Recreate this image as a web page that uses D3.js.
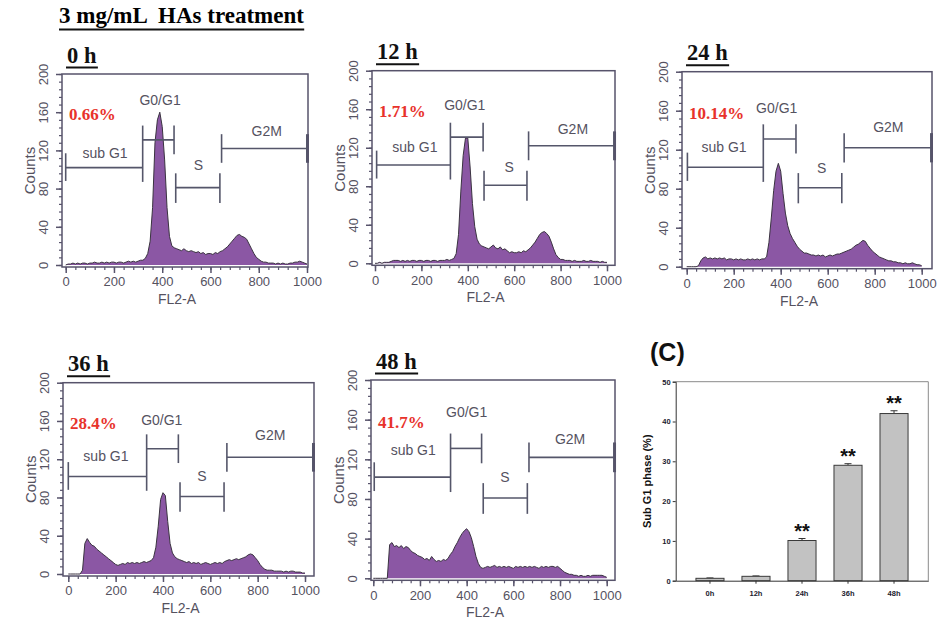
<!DOCTYPE html>
<html>
<head>
<meta charset="utf-8">
<script src="https://cdn.jsdelivr.net/npm/d3@7"></script>
<style>
  body { margin: 0; background: #fff; }
  svg { display: block; }
</style>
</head>
<body>
<svg id="fig" width="945" height="625"></svg>
<script>
const figTitle = '3 mg/mL  HAs treatment'
const timeLabels = ['0 h', '12 h', '24 h', '36 h', '48 h']
const subG1Labels = ['0.66%', '1.71%', '10.14%', '28.4%', '41.7%']
const gateNames = ['sub G1', 'G0/G1', 'S', 'G2M']

// FL2-A channels, one count every 10 channels
const channels = d3.range(0, 1001, 10)

const counts0h = [
  0, 1, 1, 2, 1, 2, 1, 2, 2, 1,
  2, 2, 3, 2, 2, 3, 2, 3, 2, 3,
  3, 2, 3, 3, 2, 3, 4, 3, 4, 3,
  4, 5, 5, 7, 12, 25, 60, 128, 152, 160,
  145, 110, 60, 30, 20, 18, 17, 16, 15, 17,
  15, 14, 15, 14, 13, 14, 12, 13, 11, 12,
  12, 11, 13, 12, 14, 15, 17, 19, 22, 25,
  28, 31, 32, 30, 29, 27, 22, 17, 12, 8,
  6, 4, 3, 3, 2, 2, 2, 1, 2, 1,
  2, 1, 1, 2, 2, 3, 3, 4, 3, 2,
  1]
const counts12h = [
  0, 0, 1, 0, 1, 1, 1, 2, 3, 3,
  3, 2, 3, 2, 3, 2, 3, 3, 2, 3,
  3, 2, 3, 3, 2, 3, 3, 2, 3, 3,
  3, 4, 3, 4, 5, 10, 30, 75, 112, 130,
  130, 100, 62, 38, 25, 20, 18, 17, 16, 15,
  17, 19, 16, 15, 17, 14, 15, 13, 11, 12,
  11, 11, 12, 11, 13, 12, 14, 16, 19, 22,
  26, 30, 32, 33, 31, 28, 22, 15, 9, 6,
  4, 4, 3, 3, 3, 2, 3, 2, 2, 2,
  3, 2, 2, 3, 2, 2, 2, 1, 2, 1,
  1]
const counts24h = [
  0, 0, 0, 0, 0, 1, 6, 9, 10, 8,
  9, 8, 9, 8, 9, 8, 9, 7, 8, 8,
  7, 8, 7, 8, 7, 7, 8, 7, 8, 7,
  8, 7, 8, 8, 10, 25, 50, 78, 98, 106,
  98, 75, 55, 42, 34, 29, 25, 21, 18, 16,
  14, 14, 13, 12, 12, 11, 12, 11, 12, 10,
  11, 12, 11, 12, 13, 13, 14, 15, 16, 17,
  18, 20, 22, 23, 25, 27, 26, 22, 19, 16,
  14, 12, 10, 9, 8, 7, 6, 6, 5, 5,
  4, 4, 3, 4, 3, 3, 4, 3, 2, 2,
  1]
const counts36h = [
  0, 0, 0, 0, 0, 0, 4, 32, 37, 33,
  30, 29, 26, 24, 22, 20, 18, 16, 14, 12,
  10, 9, 10, 11, 10, 12, 11, 12, 11, 12,
  11, 12, 13, 12, 13, 14, 17, 28, 50, 78,
  85, 82, 55, 32, 22, 18, 16, 15, 14, 13,
  12, 13, 11, 12, 11, 12, 10, 11, 12, 11,
  10, 11, 12, 11, 12, 11, 13, 14, 15, 14,
  15, 16, 15, 16, 17, 18, 20, 21, 20, 17,
  14, 10, 7, 5, 4, 4, 4, 3, 3, 3,
  3, 2, 3, 2, 3, 3, 2, 2, 2, 1,
  1]
const counts48h = [
  0, 0, 0, 0, 0, 0, 0, 34, 36, 32,
  33, 31, 33, 30, 32, 31, 28, 26, 25, 23,
  22, 21, 19, 20, 18, 22, 19, 17, 18, 17,
  19, 18, 20, 24, 27, 32, 36, 41, 45, 48,
  50, 47, 41, 32, 22, 15, 11, 10, 11, 12,
  11, 12, 13, 11, 12, 11, 12, 11, 12, 11,
  10, 12, 11, 12, 11, 12, 11, 12, 11, 12,
  11, 10, 12, 11, 12, 11, 12, 12, 11, 12,
  10, 8, 6, 5, 4, 4, 3, 3, 2, 3,
  2, 2, 3, 2, 3, 3, 3, 3, 3, 2,
  1]
const histCounts = [counts0h, counts12h, counts24h, counts36h, counts48h]

// gate edges in channels: subG1 start, subG1/G1 split, G1 end, S start, S end, G2M start
const gateEdges = [
  [0, 319, 449, 456, 639, 646],
  [7, 325, 466, 470, 655, 662],
  [3, 326, 465, 475, 660, 670],
  [0, 331, 465, 472, 658, 670],
  [4, 331, 464, 471, 660, 667]
]
// gate levels in counts: [line, cap low, cap high]
const gateLevels = {
  subG1: [102, 88, 117],
  split: [null, 87, 146],
  g1: [131, 116, 146],
  s: [81, 65, 96],
  g2m: [122, 107, 137]
}

const channelTicks = [0, 200, 400, 600, 800, 1000]
const countTicks = [0, 40, 80, 120, 160, 200]

const barCategories = ['0h', '12h', '24h', '36h', '48h']
const barMeans = [0.6, 1.1, 10.1, 29.0, 42.0]
const barErrors = [0.1, 0.1, 0.5, 0.4, 0.7]
const barMarks = ['', '', '**', '**', '**']
const percentTicks = [0, 10, 20, 30, 40, 50]

// ---- layout ----
const panels = [
  { left: 62, right: 308, x0: 65.7, x1000: 307, y0: 265, y200: 74 },
  { left: 372, right: 615, x0: 375, x1000: 607, y0: 263.3, y200: 70.7 },
  { left: 682, right: 932, x0: 686.7, x1000: 921.7, y0: 266.7, y200: 71.7 },
  { left: 63, right: 314, x0: 68.3, x1000: 305, y0: 574, y200: 382.7 },
  { left: 371, right: 615, x0: 373.3, x1000: 606.7, y0: 578.3, y200: 380 }
]
// gate label centres, [channel, count]
const gateLabelAt = [
  [[163, 117], [391, 173], [550, 105], [833, 140]],
  [[172, 121], [387, 164], [578, 100], [853, 139]],
  [[159, 123], [383, 163], [574, 101], [858, 143]],
  [[159, 123], [395, 161], [564, 103], [853, 145]],
  [[171, 129], [400, 168], [564, 102], [843, 141]]
]

const serif = '"Liberation Serif", "Times New Roman", serif'
const sans = '"Liberation Sans", Arial, sans-serif'
const frameColor = '#57536b'
const textColor = '#55525f'
const gateColor = '#55566a'
const histFill = '#8b57a4'

const svg = d3.select('#fig')

const titleText = svg.append('text')
    .attr('x', 59)
    .attr('y', 23)
    .style('font-family', serif)
    .style('font-weight', 'bold')
    .style('font-size', '23px')
    .style('white-space', 'pre')
    .text(figTitle)
const tb = titleText.node().getBBox()
svg.append('line')
    .attr('x1', tb.x).attr('x2', tb.x + tb.width)
    .attr('y1', 29.5).attr('y2', 29.5)
    .attr('stroke', '#111').attr('stroke-width', 2)

function drawHistogram(i) {
    const p = panels[i]
    const counts = histCounts[i]
    const edges = gateEdges[i]
    const bottom = p.y0 + 2

    const x = d3.scaleLinear().domain([0, 1000]).range([p.x0, p.x1000])
    const y = d3.scaleLinear().domain([0, 200]).range([p.y0, p.y200])
    const rightEdge = x.invert(p.right)

    const g = svg.append('g').attr('class', 'hist')

    g.append('defs').append('clipPath')
        .attr('id', `clip${i}`)
      .append('rect')
        .attr('x', p.left).attr('y', p.y200)
        .attr('width', p.right - p.left).attr('height', bottom - p.y200)

    const pts = channels.map((c, j) => ({ ch: c, n: counts[j] }))

    const area = d3.area()
        .x(d => x(d.ch))
        .y0(y(0))
        .y1(d => y(d.n))
    const line = d3.line()
        .x(d => x(d.ch))
        .y(d => y(d.n))

    g.append('path')
        .attr('clip-path', `url(#clip${i})`)
        .attr('d', area(pts))
        .style('fill', histFill)
    g.append('path')
        .attr('clip-path', `url(#clip${i})`)
        .attr('d', line(pts))
        .style('fill', 'none')
        .style('stroke', '#3a3340')
        .style('stroke-width', 1)

    // gates
    const gate = (x1, x2, yv) => g.append('line')
        .attr('x1', x(x1)).attr('x2', x(x2))
        .attr('y1', y(yv)).attr('y2', y(yv))
        .attr('stroke', gateColor).attr('stroke-width', 1.6)
    const cap = (xv, lo, hi, w) => g.append('line')
        .attr('x1', x(xv)).attr('x2', x(xv))
        .attr('y1', y(lo)).attr('y2', y(hi))
        .attr('stroke', gateColor).attr('stroke-width', w || 1.6)

    gate(edges[0], edges[1], gateLevels.subG1[0])
    cap(edges[0], gateLevels.subG1[1], gateLevels.subG1[2])
    cap(edges[1], gateLevels.split[1], gateLevels.split[2])
    gate(edges[1], edges[2], gateLevels.g1[0])
    cap(edges[2], gateLevels.g1[1], gateLevels.g1[2])
    gate(edges[3], edges[4], gateLevels.s[0])
    cap(edges[3], gateLevels.s[1], gateLevels.s[2])
    cap(edges[4], gateLevels.s[1], gateLevels.s[2])
    gate(edges[5], rightEdge - 2, gateLevels.g2m[0])
    cap(edges[5], gateLevels.g2m[1], gateLevels.g2m[2])
    cap(rightEdge - 2, gateLevels.g2m[1], gateLevels.g2m[2], 3)

    g.selectAll('.gate-label')
        .data(gateNames)
        .enter()
        .append('text')
            .attr('class', 'gate-label')
            .attr('x', (d, k) => x(gateLabelAt[i][k][0]))
            .attr('y', (d, k) => y(gateLabelAt[i][k][1]))
            .attr('dy', '0.36em')
            .attr('text-anchor', 'middle')
            .style('font-family', sans)
            .style('font-size', '14px')
            .style('fill', textColor)
            .text(d => d)

    // frame
    g.append('rect')
        .attr('x', p.left).attr('y', p.y200)
        .attr('width', p.right - p.left).attr('height', bottom - p.y200)
        .style('fill', 'none')
        .style('stroke', frameColor)
        .style('stroke-width', 1.5)

    // axes
    g.append('g')
        .attr('transform', `translate(0,${bottom})`)
        .call(d3.axisBottom(x).tickValues(d3.range(0, 1001, 40)).tickSize(3).tickFormat(''))
        .call(a => a.select('.domain').remove())
        .call(a => a.selectAll('line').attr('stroke', frameColor).attr('stroke-width', 1.2))
    g.append('g')
        .attr('transform', `translate(0,${bottom})`)
        .call(d3.axisBottom(x).tickValues(channelTicks).tickSize(6).tickFormat(d3.format('d')))
        .call(a => a.select('.domain').remove())
        .call(a => a.selectAll('line').attr('stroke', frameColor).attr('stroke-width', 1.5))
        .call(a => a.selectAll('text')
            .attr('y', 10)
            .style('font-family', sans)
            .style('font-size', '13px')
            .style('fill', textColor))

    g.append('g')
        .attr('transform', `translate(${p.left},0)`)
        .call(d3.axisLeft(y).tickValues(d3.range(0, 201, 8)).tickSize(3).tickFormat(''))
        .call(a => a.select('.domain').remove())
        .call(a => a.selectAll('line').attr('stroke', frameColor).attr('stroke-width', 1.2))
    g.append('g')
        .attr('transform', `translate(${p.left},0)`)
        .call(d3.axisLeft(y).tickValues(countTicks).tickSize(6))
        .call(a => a.select('.domain').remove())
        .call(a => a.selectAll('line').attr('stroke', frameColor).attr('stroke-width', 1.5))
        .call(a => a.selectAll('text')
            .attr('transform', 'rotate(-90)')
            .attr('x', 0)
            .attr('y', -14)
            .attr('dy', 0)
            .attr('text-anchor', 'middle')
            .style('font-family', sans)
            .style('font-size', '13px')
            .style('fill', textColor))

    g.append('text')
        .attr('transform', `translate(${p.left - 27},${(p.y200 + bottom) / 2}) rotate(-90)`)
        .attr('text-anchor', 'middle')
        .style('font-family', sans)
        .style('font-size', '15px')
        .style('fill', textColor)
        .text('Counts')

    g.append('text')
        .attr('x', (p.left + p.right) / 2 - 8)
        .attr('y', p.y0 + 39)
        .attr('text-anchor', 'middle')
        .style('font-family', sans)
        .style('font-size', '14px')
        .style('fill', textColor)
        .text('FL2-A')

    g.append('text')
        .attr('x', p.left + 7)
        .attr('y', y(152))
        .style('font-family', serif)
        .style('font-weight', 'bold')
        .style('font-size', '17px')
        .style('fill', '#e8322b')
        .text(subG1Labels[i])

    const tt = g.append('text')
        .attr('x', p.left + 5)
        .attr('y', p.y200 - 11.5)
        .style('font-family', serif)
        .style('font-weight', 'bold')
        .style('font-size', '22.5px')
        .style('fill', '#111')
        .text(timeLabels[i])
    const bb = tt.node().getBBox()
    g.append('line')
        .attr('x1', bb.x - 1).attr('x2', bb.x + bb.width + 1)
        .attr('y1', p.y200 - 6.5).attr('y2', p.y200 - 6.5)
        .attr('stroke', '#111').attr('stroke-width', 2)
}

histCounts.forEach((d, i) => drawHistogram(i))

// ---- (C) bar chart ----
const bar = { left: 675.7, right: 928.3, top: 381.7, bottom: 580.7 }
const bx = d3.scaleBand()
    .domain(barCategories)
    .range([bar.left, bar.right])
    .paddingInner(0.39)
    .paddingOuter(0.44)
const by = d3.scaleLinear()
    .domain([0, 50])
    .range([bar.bottom, bar.top])

const bg = svg.append('g').attr('class', 'bars')

bg.append('text')
    .attr('x', 650)
    .attr('y', 360.5)
    .style('font-family', sans)
    .style('font-weight', 'bold')
    .style('font-size', '25px')
    .style('fill', '#111')
    .text('(C)')

bg.append('line')
    .attr('x1', bar.left).attr('x2', bar.right)
    .attr('y1', bar.top).attr('y2', bar.top)
    .attr('stroke', '#8a8a8a').attr('stroke-width', 1)
bg.append('line')
    .attr('x1', bar.right).attr('x2', bar.right)
    .attr('y1', bar.top).attr('y2', bar.bottom)
    .attr('stroke', '#8a8a8a').attr('stroke-width', 1)

bg.selectAll('.err')
    .data(barCategories)
    .enter()
    .append('path')
        .attr('class', 'err')
        .attr('d', (d, i) => {
            const cx = bx(d) + bx.bandwidth() / 2
            const yt = by(barMeans[i] + barErrors[i])
            return `M${cx},${by(barMeans[i])}V${yt}M${cx - 3.5},${yt}H${cx + 3.5}`
        })
        .style('fill', 'none')
        .style('stroke', '#333')
        .style('stroke-width', 1)

bg.selectAll('.bar')
    .data(barCategories)
    .enter()
    .append('rect')
        .attr('class', 'bar')
        .attr('x', d => bx(d))
        .attr('width', bx.bandwidth())
        .attr('y', (d, i) => by(barMeans[i]))
        .attr('height', (d, i) => by(0) - by(barMeans[i]))
        .style('fill', '#c2c2c2')
        .style('stroke', '#3a3a3a')
        .style('stroke-width', 1)

bg.selectAll('.mark')
    .data(barCategories)
    .enter()
    .append('text')
        .attr('class', 'mark')
        .attr('x', d => bx(d) + bx.bandwidth() / 2)
        .attr('y', (d, i) => by(barMeans[i] + barErrors[i]) - 1)
        .attr('text-anchor', 'middle')
        .style('font-family', sans)
        .style('font-weight', 'bold')
        .style('font-size', '20px')
        .style('fill', '#111')
        .text((d, i) => barMarks[i])

bg.append('g')
    .attr('transform', `translate(${bar.left},0)`)
    .call(d3.axisLeft(by).tickValues(percentTicks).tickSize(3).tickPadding(2))
    .call(a => a.select('.domain').attr('stroke', '#333'))
    .call(a => a.selectAll('line').attr('stroke', '#333'))
    .call(a => a.selectAll('text')
        .style('font-family', sans)
        .style('font-weight', 'bold')
        .style('font-size', '7.5px')
        .style('fill', '#1b1b2e'))

bg.append('g')
    .attr('transform', `translate(0,${bar.bottom})`)
    .call(d3.axisBottom(bx).tickSize(3).tickSizeOuter(0).tickPadding(7))
    .call(a => a.select('.domain').attr('stroke', '#333'))
    .call(a => a.selectAll('line').attr('stroke', '#333'))
    .call(a => a.selectAll('text')
        .style('font-family', sans)
        .style('font-weight', 'bold')
        .style('font-size', '7.5px')
        .style('fill', '#1b1b2e'))

bg.append('text')
    .attr('transform', `translate(651,${(bar.top + bar.bottom) / 2}) rotate(-90)`)
    .attr('text-anchor', 'middle')
    .style('font-family', sans)
    .style('font-weight', 'bold')
    .style('font-size', '11px')
    .style('fill', '#111')
    .text('Sub G1 phase (%)')
</script>
</body>
</html>
